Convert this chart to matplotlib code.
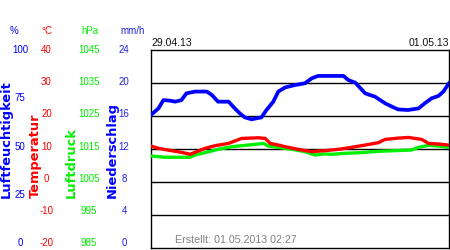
import matplotlib
matplotlib.use("Agg")
import matplotlib.pyplot as plt
from matplotlib.transforms import blended_transform_factory, ScaledTranslation

plt.rcParams['font.family'] = ['Liberation Sans', 'DejaVu Sans']

# hours since 29.04.13 00:00
hum_t = [0, 1.2, 2.0, 3.1, 3.9, 4.9, 5.7, 7.1, 9.0, 9.8, 10.8, 12.5, 13.5, 14.3, 15.1,
         16.2, 17.8, 18.6, 19.7, 20.5, 21.6, 23.2, 24.8, 25.9, 26.9, 28.3, 31.0, 31.8,
         32.9, 34.5, 36.1, 37.7, 38.8, 39.8, 41.4, 43.1, 44.1, 45.2, 46.3, 47.1, 48]
hum = [67.2, 70.5, 74.7, 74.4, 73.9, 74.7, 78.1, 79.0, 79.0, 77.3, 73.9, 73.9, 70.5, 68.0,
       66.0, 65.0, 66.0, 69.7, 73.9, 79.0, 81.1, 82.3, 83.2, 85.7, 86.9, 86.9, 86.9, 84.8,
       83.5, 78.1, 76.4, 73.1, 71.4, 70.0, 69.7, 70.5, 73.1, 75.6, 76.8, 79.0, 83.2]

temp_t = [0, 1.2, 3.3, 4.9, 6.3, 7.1, 8.7, 10.3, 12.5, 14.6, 17.3, 18.4, 19.2, 20.5, 22.1,
          23.7, 25.9, 28.0, 30.2, 32.3, 34.5, 36.6, 37.7, 39.8, 41.5, 43.6, 44.7, 46.3, 48]
temp = [10.9, 10.2, 9.5, 9.0, 8.4, 9.0, 10.2, 11.0, 11.7, 13.2, 13.4, 13.2, 11.7, 11.2, 10.5,
        9.9, 9.2, 9.5, 9.9, 10.5, 11.2, 11.9, 12.9, 13.3, 13.5, 12.9, 11.7, 11.5, 11.2]

pres_t = [0, 2.2, 4.4, 6.3, 7.1, 8.7, 10.8, 13.0, 15.1, 17.3, 18.1, 18.9, 20.5, 22.7, 24.8,
          26.4, 28.0, 29.1, 31.3, 33.9, 36.6, 39.3, 42.0, 43.1, 44.7, 46.3, 48]
pres = [1012.9, 1012.5, 1012.5, 1012.5, 1013.2, 1013.9, 1014.9, 1015.7, 1016.1, 1016.5,
        1016.7, 1015.9, 1015.5, 1014.9, 1014.2, 1013.2, 1013.5, 1013.4, 1013.7, 1013.9,
        1014.3, 1014.5, 1014.7, 1015.5, 1016.1, 1015.9, 1015.5]

hum_ticks = [0, 25, 50, 75, 100]
temp_ticks = [-20, -10, 0, 10, 20, 30, 40]
pres_ticks = [985, 995, 1005, 1015, 1025, 1035, 1045]
rain_ticks = [0, 4, 8, 12, 16, 20, 24]

W, H = 450, 250
fig = plt.figure(figsize=(4.5, 2.5), dpi=100, facecolor='white')
rect = [151 / W, 2 / H, 298 / W, 198 / H]

blue, red, green, rblue = '#0000ff', '#ff0000', '#00ee00', '#2222dd'

ax = fig.add_axes(rect)          # temperature scale, carries the grid
ax_h = fig.add_axes(rect, frameon=False, zorder=2)
ax_p = fig.add_axes(rect, frameon=False, zorder=3)
ax_t = fig.add_axes(rect, frameon=False, zorder=4)
ax_r = fig.add_axes(rect, frameon=False, zorder=1)

ax.set_ylim(-20, 40)
ax_t.set_ylim(-20, 40)
ax_h.set_ylim(0, 100)
ax_p.set_ylim(985, 1045)
ax_r.set_ylim(0, 24)
for a in (ax, ax_h, ax_p, ax_t, ax_r):
    a.set_xlim(0, 48)
    a.set_xticks([])
    a.set_yticks([])
    a.patch.set_alpha(0)

for v in temp_ticks[1:-1]:
    ax.axhline(v, color='black', lw=1)
for s in ax.spines.values():
    s.set_color('black')
    s.set_linewidth(1)

ax_h.plot(hum_t, hum, color=blue, lw=2.7)
ax_p.plot(pres_t, pres, color=green, lw=2.4)
ax_t.plot(temp_t, temp, color=red, lw=2.4)


# tick labels, squeezed slightly upward toward the bottom like the original
def ticklabels(a, vals, color, x_px, ha):
    lo, hi = a.get_ylim()
    base = blended_transform_factory(fig.transFigure, a.transData)
    for v in vals:
        frac = (v - lo) / (hi - lo)
        dy = (1 - frac) * 5 / 100
        tr = base + ScaledTranslation(0, dy, fig.dpi_scale_trans)
        a.text(x_px / W, v, str(v), transform=tr, color=color, fontsize=7,
               ha=ha, va='center', clip_on=False)


ticklabels(ax_h, hum_ticks, blue, 20, 'center')
ticklabels(ax, temp_ticks, red, 46.5, 'center')
ticklabels(ax_p, pres_ticks, green, 89, 'center')
ticklabels(ax_r, rain_ticks, rblue, 124, 'center')

# headers
fig.text(14 / W, 1 - 31 / H, '%', color=blue, fontsize=7, ha='center', va='center')
fig.text(46.5 / W, 1 - 31 / H, '°C', color=red, fontsize=7, ha='center', va='center')
fig.text(90 / W, 1 - 31 / H, 'hPa', color=green, fontsize=7, ha='center', va='center')
fig.text(132.5 / W, 1 - 31 / H, 'mm/h', color=rblue, fontsize=7, ha='center', va='center')

# rotated axis titles
for x, txt, c in [(6, 'Luftfeuchtigkeit', blue), (35.5, 'Temperatur', red),
                  (71.5, 'Luftdruck', green), (112.5, 'Niederschlag', blue)]:
    fig.text(x / W, 1 - 198 / H, txt, color=c, fontsize=9.4, fontweight='bold',
             family='DejaVu Sans', rotation=90, ha='center', va='bottom')

fig.text(151 / W, 1 - 43 / H, '29.04.13', fontsize=7.5, ha='left', va='center', color='#111111')
fig.text(449 / W, 1 - 43 / H, '01.05.13', fontsize=7.5, ha='right', va='center', color='#111111')
fig.text(175 / W, 1 - 240 / H, 'Erstellt: 01.05.2013 02:27', fontsize=7.7, ha='left',
         va='center', color='#808080')

fig.savefig('out.png', dpi=100, facecolor='white')
